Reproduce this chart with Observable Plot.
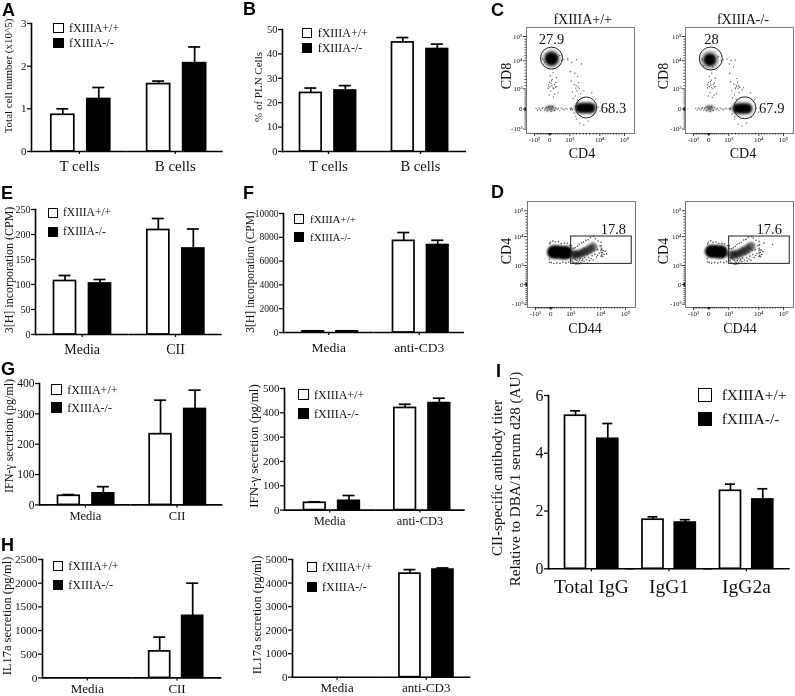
<!DOCTYPE html>
<html><head><meta charset="utf-8">
<script src="https://cdn.jsdelivr.net/npm/d3@7"></script>
<script src="https://cdn.jsdelivr.net/npm/@observablehq/plot@0.6"></script>
<style>
body{margin:0;background:#fff}
#fig{position:relative;width:795px;height:696px;overflow:hidden;font-family:"Liberation Serif",serif;color:#111;filter:blur(.35px)}
#fig svg{position:absolute;background:transparent;overflow:visible}
.t{position:absolute;white-space:nowrap;line-height:1}
.letter{font-family:"Liberation Sans",sans-serif;font-weight:700;font-size:18px;color:#000}
.sw{position:absolute;box-sizing:border-box;border:1.6px solid #000;background:#fff}
.sw.k{background:#000}
</style></head><body><div id="fig"></div>
<script>
// ---------- bar data ----------
const genotypes = ["fXIIIA+/+", "fXIIIA-/-"];
const cellCats = ["T cells", "B cells"];
const aWt = [0.86, 1.58], aWtTop = [1.0, 1.65], aKo = [1.23, 2.07], aKoTop = [1.5, 2.45];
const bWt = [24, 44.7], bWtTop = [26, 46.7], bKo = [25, 42], bKoTop = [27, 44];
const ciiCats = ["Media", "CII"];
const cd3Cats = ["Media", "anti-CD3"];
const eWt = [107, 209], eWtTop = [118, 232], eKo = [102, 172], eKoTop = [110, 211];
const fWt = [100, 7700], fWtTop = [130, 8400], fKo = [100, 7350], fKoTop = [130, 7750];
const g1Wt = [30, 233], g1WtTop = [34, 345], g1Ko = [38, 316], g1KoTop = [60, 378];
const g2Wt = [30, 420], g2WtTop = [34, 435], g2Ko = [38, 440], g2KoTop = [60, 460];
const h1Wt = [0, 560], h1WtTop = [0, 860], h1Ko = [0, 1310], h1KoTop = [0, 2000];
const h2Wt = [0, 4400], h2WtTop = [0, 4570], h2Ko = [0, 4570], h2KoTop = [0, 4640];
const iCats = ["Total IgG", "IgG1", "IgG2a"];
const iWt = [5.3, 1.7, 2.7], iWtTop = [5.47, 1.8, 2.93], iKo = [4.5, 1.6, 2.4], iKoTop = [5.03, 1.7, 2.77];

// ---------- flow cytometry data ----------
const flowMajor = [-1000, 0, 1000, 10000, 100000];
const flowMajorLabels = ["-10³", "0", "10³", "10⁴", "10⁵"];
const flowMinor = [-900,-800,-700,-600,-500,-400,-300,-200,-100,-60,-40,-20,20,40,60,100,200,300,400,500,600,700,800,900,2000,3000,4000,5000,6000,7000,8000,9000,20000,30000,40000,50000,60000,70000,80000,90000];

const cLeftUpper = [[85,17500]];
const cLeftLower = [[4000,50],[4900,50],[5800,50],[6700,50],[7300,50]];
const cLeftPatch = [[-100,40],[35,50],[150,40]];
const cLeftSpecks = [[50,900],[150,1300],[-50,700],[100,2000],[200,1100],[300,3000],[10,1600],[250,750],[120,4000],[-100,1200],[350,1800],[60,2700],[400,800],[180,600],[-80,2200],[280,1500],[90,3500],[230,2400],[20,5200],[330,4600],[-30,3100],[160,6200],
[900,13000],[1600,9500],[2500,6000],[3000,14000],[1400,3500],[2300,2400],[3500,1600],[3100,900],[2600,650],[4200,750],[2800,1200],[1800,850],[3900,1050],[2000,520],[3300,450],[4600,520],[5200,900],[2900,2000],[3700,3000],[3300,5000],[4500,9000],[1200,6500],
[-900,40],[-800,-40],[-700,60],[-650,0],[-600,-60],[-500,30],[-450,70],[-350,-50],[-300,20],[-220,90],[-180,-80],[-60,110],[60,-110],[130,120],[240,-70],[300,60],[360,-30],[430,40],[500,-60],[560,50],[650,10],[720,-40],[800,40],[880,0],[1100,30],[1250,-40],[1400,60],[1600,10],[1800,-30],
[-450,14000],[-350,9500],[-500,20000],[400,26000],[600,11000],[700,16000],[500,30000],[200,9000],[900,19000],[-250,34000],[2300,-200],[3000,-500],[4000,-700],[5200,-800],[6500,-600],[8000,-300],[9500,100],[8800,500],[7600,800],[3200,300],[2800,-350],[10500,-100]];

const cRightUpper = [[50,13750]];
const cRightLower = [[3550,35],[4300,35],[5200,35],[6100,35],[6550,35]];
const cRightPatch = [[-30,40],[50,40],[130,50]];
const cRightSpecks = [[60,800],[140,1400],[-40,650],[110,2100],[210,1000],[280,2900],[20,1700],[260,700],[130,3800],[-90,1250],[340,1700],[70,2600],[390,760],[170,580],[-70,2300],[270,1600],[80,3400],[220,2500],[30,5000],[320,4400],[-20,3000],[150,6000],
[1100,9000],[1700,11500],[2400,8000],[2900,13000],[1500,3300],[2500,2500],[3400,1700],[3000,1000],[2700,700],[4100,800],[2900,1300],[1900,900],[3800,1200],[2100,550],[3200,480],[4500,560],[5000,950],[3200,2200],[3600,3200],[3400,4300],[4000,1900],[1300,6000],
[-850,40],[-750,-40],[-680,60],[-600,0],[-520,-50],[-460,30],[-400,70],[-330,-50],[-280,20],[-200,90],[-170,-80],[-60,110],[70,-120],[140,120],[230,-70],[310,60],[370,-30],[440,40],[510,-60],[570,50],[660,10],[730,-40],[820,40],[900,0],[1150,30],[1300,-40],[1450,60],[1650,10],
[-420,12000],[-330,8500],[-450,18000],[420,22000],[620,10500],[720,14500],[480,26000],[200,8000],[900,16000],[2000,-250],[2800,-500],[3800,-750],[5000,-850],[6300,-700],[7800,-400],[9300,50],[8700,450],[7500,800],[5400,1300],[4300,1500],[2800,-380],[10000,-150]];

const dLeftCore = [[150,5200],[300,5200],[450,5100],[600,5000],[750,5000]];
const dLeftTail = [[1900,4400],[2800,4300],[4000,4700],[5200,5200],[6400,5900],[7600,6700]];
const dLeftSpecks = [[-60,7800],[-20,8200],[100,8600],[220,8300],[380,8400],[520,7800],[680,8000],[820,7900],[950,7300],[1200,7200],[-100,3000],[-80,2000],[30,1900],[150,1600],[300,1800],[460,1700],[600,2000],[760,1800],[900,2100],[1050,2600],
[1300,6400],[1500,2300],[1700,1900],[1900,6300],[2100,1700],[2300,2800],[2400,6600],[2600,1800],[2800,2600],[3000,7000],[3200,2100],[3400,1700],[3500,7600],[3600,2600],[3800,3100],[4000,1900],[4200,8000],[4400,2500],[4600,3000],[4800,8300],[5000,2300],[5200,3400],[5500,8800],[5700,2800],[5900,1700],[6200,9000],[6400,3500],[6600,2500],[6900,9600],[7100,3100],[7400,4000],[7700,2700],[7900,10000],[8200,4500],[8400,9300],[8700,3600],[9000,6000],[9200,8600],[9500,4800],[9800,7000],[10200,5700],[10600,8200],[10900,3900],[11500,6400],[12000,5000],[12800,7200],[13500,4300],[14500,6000],[15500,5000],[17000,3800],[19000,5600],[22000,4500],[26000,5400],[31000,4600],[1600,3100],[2000,3600],[2500,1500],[3000,1450],[3700,1550],[4300,5700],[5000,6300],[6000,4600],[7000,5000],[8000,5600],[9000,4200]];

const dRightCore = [[130,5400],[260,5400],[380,5300],[500,5200],[620,5200]];
const dRightTail = [[1800,4300],[2800,4300],[4000,4700],[5200,5300],[6400,6000],[7600,6900]];
const dRightSpecks = [[-70,7700],[-30,8300],[90,8700],[210,8200],[360,8300],[500,7900],[660,7800],[800,7700],[930,7200],[1150,7100],[-110,3100],[-90,2100],[20,1900],[140,1700],[290,1900],[450,1800],[590,2100],[750,1900],[890,2200],[1040,2600],
[1250,6300],[1450,2400],[1650,1800],[1850,6200],[2050,1600],[2250,2900],[2350,6500],[2550,1700],[2750,2500],[2950,6900],[3150,2000],[3350,1600],[3450,7500],[3550,2500],[3750,3000],[3950,1800],[4150,7900],[4350,2400],[4550,2900],[4750,8200],[4950,2200],[5150,3300],[5450,8900],[5650,2700],[5850,1600],[6150,9100],[6350,3400],[6550,2400],[6850,9800],[7050,3000],[7350,3900],[7650,2600],[7850,10200],[8150,4400],[8350,9500],[8650,3500],[8950,5900],[9150,8800],[9450,4700],[9750,7200],[10100,5600],[10500,8500],[10800,3800],[11300,6300],[11900,4900],[12600,7400],[13300,4200],[14300,5900],[15300,5000],[16800,3700],[18500,5700],[21000,4400],[25000,5300],[29000,8000],[60000,7500],[1600,3200],[2000,3500],[2500,1450],[3000,1400],[3600,1500],[4300,5800],[5000,6400],[6000,4500],[7000,5100],[8000,5700],[9000,4100]];

// ---------- helpers ----------
const fig = document.getElementById("fig");
function place(svg, left, top){ svg.style.left = left + "px"; svg.style.top = top + "px"; fig.appendChild(svg); }
function label(text, x, y, size, cls){
  const d = document.createElement("div"); d.className = "t " + (cls || "");
  d.textContent = text; d.style.left = x + "px"; d.style.top = y + "px";
  if (size) d.style.fontSize = size + "px";
  d.style.transform = "translate(-50%,-50%)"; fig.appendChild(d);
}
function leftLabel(text, x, cy, size){
  const d = document.createElement("div"); d.className = "t";
  d.textContent = text; d.style.left = x + "px"; d.style.top = cy + "px"; d.style.fontSize = size + "px";
  d.style.transform = "translateY(-50%)"; fig.appendChild(d);
}
function vlabel(text, cx, cy, size){
  const d = document.createElement("div"); d.className = "t";
  d.textContent = text; d.style.left = cx + "px"; d.style.top = cy + "px"; d.style.fontSize = size + "px";
  d.style.transform = "translate(-50%,-50%) rotate(-90deg)"; fig.appendChild(d);
}
function letter(text, x, baseline){
  const d = document.createElement("div"); d.className = "t letter";
  d.textContent = text; d.style.left = x + "px"; d.style.top = (baseline - 14) + "px"; fig.appendChild(d);
}
function legend(x, w, y1, y2, h, tx, size){
  [[y1, "", genotypes[0]], [y2, "k", genotypes[1]]].forEach(([y, c, t]) => {
    const s = document.createElement("div"); s.className = "sw " + c;
    s.style.cssText = `left:${x}px;top:${y}px;width:${w}px;height:${h}px`; fig.appendChild(s);
    leftLabel(t, tx, y + h / 2, size);
  });
}
function barPanel(o){
  const fl = o.fl == null ? o.l : o.fl, fr = o.fr == null ? o.r : o.fr;
  const over = fl - o.l, overR = o.r - fr;
  const mL = 30 + over, mR = 6 + overR, mT = 6, mB = 26;
  const F = (fr - fl) / o.cats.length;
  const pi = 1 - o.bw / o.step;
  const po = Math.max(0, (F / o.step - 2 + pi) / 2);
  const rest = F - (2 - pi) * o.step;
  const align = Math.min(1, Math.max(0, o.off / rest));
  const rows = o.cats.flatMap((c, i) => [
    {c, g: genotypes[0], v: o.wt[i], top: o.wtTop[i]},
    {c, g: genotypes[1], v: o.ko[i], top: o.koTop[i]}
  ]);
  const sw = o.sw || 1.7;
  const cap = (o.bw - (o.cap || 12)) / 2;
  const svg = Plot.plot({
    width: o.r - o.l + 36, height: o.b - o.t + mT + mB,
    marginLeft: mL, marginRight: mR, marginTop: mT, marginBottom: mB,
    style: {background: "transparent", fontFamily: "Liberation Serif", color: "#111", overflow: "visible"},
    fx: {domain: o.cats, padding: 0, label: null, round: false, axis: null},
    x: {domain: genotypes, paddingInner: pi, paddingOuter: po, align, round: false, axis: null},
    y: {domain: [0, o.max], axis: null},
    marks: [
      Plot.ruleX(rows, {fx: "c", x: "g", y1: "v", y2: "top", stroke: "#000", strokeWidth: sw, filter: d => d.top > d.v}),
      Plot.tickY(rows, {fx: "c", x: "g", y: "top", stroke: "#000", strokeWidth: sw, insetLeft: cap, insetRight: cap, filter: d => d.top > d.v}),
      Plot.barY(rows, {fx: "c", x: "g", y: "v", fill: d => d.g === genotypes[0] ? "#fff" : "#000", stroke: "#000", strokeWidth: sw, filter: d => d.v > 0}),
      Plot.ruleY([0], {stroke: "#000", strokeWidth: 1.6, insetLeft: -over, insetRight: -overR}),
      Plot.frame({anchor: "left", facetAnchor: "left", stroke: "#000", strokeWidth: 1.6, dx: -over}),
      Plot.axisY(o.yTicks, {tickSize: 4, tickPadding: 1, fontSize: o.yFont, label: null, strokeWidth: 1.3, tickFormat: d => String(d), dx: -over}),
      Plot.axisFx({anchor: "bottom", tickSize: 3, tickPadding: o.xPad || 4, fontSize: o.xFont, label: null, strokeWidth: 1.3})
    ]
  });
  place(svg, o.l - 30, o.t - mT);
}
function flowPanel(o){
  const mL = 26, mR = 4, mT = 4, mB = 22;
  const W = 108, H = 106;
  const xr = o.xRange || [0, 8, 23.3, 43.3, 73.3, 98, 108];
  const yr = o.yRange;
  const svg = Plot.plot({
    width: W + mL + mR, height: H + mT + mB, marginLeft: mL, marginRight: mR, marginTop: mT, marginBottom: mB,
    style: {background: "transparent", fontFamily: "Liberation Serif", color: "#111", overflow: "visible"},
    x: {type: "linear", domain: [-1600, -1000, 0, 1000, 10000, 100000, 140000], range: xr.map(v => v + mL), axis: null},
    y: {type: "linear", domain: [200000, 100000, 10000, 1000, 0, -1000, -1220], range: yr.map(v => v + mT), axis: null},
    marks: [
      Plot.frame({stroke: "#777", strokeWidth: 1}),
      Plot.axisX(flowMinor, {anchor: "bottom", tickSize: 1.5, tickFormat: () => "", label: null, strokeWidth: .8}),
      Plot.axisY(flowMinor, {anchor: "left", tickSize: 1.5, tickFormat: () => "", label: null, strokeWidth: .8}),
      Plot.axisX(flowMajor, {anchor: "bottom", tickSize: 3, tickPadding: 1, fontSize: 7, label: null, tickFormat: d => flowMajorLabels[flowMajor.indexOf(d)], strokeWidth: .8}),
      Plot.axisY(flowMajor, {anchor: "left", tickSize: 3, tickPadding: 1, fontSize: 7, label: null, tickFormat: d => flowMajorLabels[flowMajor.indexOf(d)], strokeWidth: .8}),
      ...o.blobs.map(b => Plot.dot(b.data, {x: d => d[0], y: d => d[1], r: b.r, fill: b.fill || "#000", fillOpacity: b.op == null ? 1 : b.op, imageFilter: `blur(${b.blur == null ? 1 : b.blur}px)`})),
      Plot.dot(o.specks, {x: d => d[0], y: d => d[1], r: o.speckR || .65, fill: "#222", fillOpacity: .8}),
      ...(o.gates || []).map(g => Plot.dot(g.data, {x: d => d[0], y: d => d[1], r: g.r, fill: "none", stroke: "#222", strokeWidth: 1})),
      ...(o.rect ? [Plot.rect(o.rect, {x1: d => d[0], x2: d => d[1], y1: d => d[2], y2: d => d[3], fill: "none", stroke: "#222", strokeWidth: 1})] : []),
      Plot.text(o.values, {x: d => d[0], y: d => d[1], text: d => d[2], fontSize: 14.5, fill: "#111"})
    ]
  });
  place(svg, o.left - mL, o.top - mT);
}

// ---------- bar panels ----------
barPanel({l:31,r:222.7,t:22.7,b:150.7,max:3,yTicks:[0,1,2,3],cats:cellCats,wt:aWt,wtTop:aWtTop,ko:aKo,koTop:aKoTop,off:19.8,bw:23,step:36,yFont:11,xFont:15,xPad:6});
barPanel({l:281.7,r:465.7,t:29,b:151,max:50,yTicks:[0,10,20,30,40,50],cats:cellCats,wt:bWt,wtTop:bWtTop,ko:bKo,koTop:bKoTop,off:17.5,bw:21.6,step:34.5,yFont:10.5,xFont:14.5,xPad:6});
barPanel({l:35,r:221.7,t:208.7,b:333.7,max:250,yTicks:[0,50,100,150,200,250],cats:ciiCats,wt:eWt,wtTop:eWtTop,ko:eKo,koTop:eKoTop,off:18.5,bw:22,step:35,yFont:10,xFont:14,xPad:7});
barPanel({l:283.3,r:464.3,t:213.3,b:332.3,max:10000,yTicks:[0,2000,4000,6000,8000,10000],cats:cd3Cats,wt:fWt,wtTop:fWtTop,ko:fKo,koTop:fKoTop,off:19,bw:21.5,step:34,yFont:9.5,xFont:13.5,xPad:7});
barPanel({l:39.3,r:222.7,t:383.3,b:504.7,max:400,yTicks:[0,100,200,300,400],cats:ciiCats,wt:g1Wt,wtTop:g1WtTop,ko:g1Ko,koTop:g1KoTop,off:18.5,bw:21.7,step:34.5,yFont:11.5,xFont:12.5,xPad:3});
barPanel({l:284.3,r:465,t:387.7,b:509.3,max:500,yTicks:[0,100,200,300,400,500],cats:cd3Cats,wt:g2Wt,wtTop:g2WtTop,ko:g2Ko,koTop:g2KoTop,off:19.5,bw:21.6,step:34.2,yFont:11,xFont:12.5,xPad:3});
barPanel({l:42.3,r:221.7,t:559.3,b:677.7,max:2500,yTicks:[0,500,1000,1500,2000,2500],cats:ciiCats,wt:h1Wt,wtTop:h1WtTop,ko:h1Ko,koTop:h1KoTop,off:17,bw:21,step:33,yFont:11.3,xFont:13,xPad:3});
barPanel({l:291.7,r:470,t:559,b:676.7,max:5000,yTicks:[0,1000,2000,3000,4000,5000],cats:cd3Cats,wt:h2Wt,wtTop:h2WtTop,ko:h2Ko,koTop:h2KoTop,off:17.8,bw:21,step:33,yFont:11,xFont:13,xPad:3});
barPanel({l:548.3,r:790,fl:552.5,fr:785,t:395,b:568.3,max:6,yTicks:[0,2,4,6],cats:iCats,wt:iWt,wtTop:iWtTop,ko:iKo,koTop:iKoTop,off:12.3,bw:21,step:32.3,cap:10,yFont:16,xFont:19.5,xPad:7});

// ---------- axis titles ----------
vlabel("Total cell number (x10^5)", 8, 76, 11);
vlabel("% of PLN Cells", 258, 87, 11);
vlabel("3[H] incorporation (CPM)", 9, 269.5, 12);
vlabel("3[H] incorporation (CPM)", 251, 271.5, 11.5);
vlabel("IFN-γ secretion (pg/ml)", 9.3, 436, 12);
vlabel("IFN-γ secretion (pg/ml)", 253, 446, 13);
vlabel("IL17a secretion (pg/ml)", 7, 616, 12.5);
vlabel("IL17a secretion (pg/ml)", 256.7, 615, 12.5);
vlabel("CII-specific antibody titer", 497, 478, 15);
vlabel("Relative to DBA/1 serum d28 (AU)", 515, 479, 15);

// ---------- legends ----------
legend(53, 10.5, 23, 38, 10, 69, 12);
legend(301.7, 10.5, 28, 43, 10, 317.7, 12);
legend(48, 10, 208, 227, 10, 63, 11.5);
legend(294, 10, 214, 232, 10, 310, 11);
legend(51, 10.5, 384, 402, 11, 67.3, 12);
legend(298, 10.5, 389, 408, 11, 314, 12);
legend(52.7, 10, 560.7, 580, 10, 68.3, 12);
legend(306.7, 10.5, 561.7, 582, 10, 322, 12);
legend(697.7, 14, 388, 412, 14, 721.7, 15.5);

// ---------- flow panels ----------
const cY = [0, 9, 33.3, 61.3, 81.6, 101.6, 106];
const dY = [0, 9.3, 35, 64, 83, 102.7, 106.6];
flowPanel({left:526,top:26.7,yRange:cY,
  blobs:[{data:cLeftUpper,r:9,op:.4,blur:1.5},{data:cLeftUpper,r:6.5},{data:cLeftLower,r:6,op:.4,blur:1.5},{data:cLeftLower,r:4},{data:cLeftPatch,r:3,fill:"#555",op:.55,blur:1.2}],
  specks:cLeftSpecks,gates:[{data:[[85,20000]],r:11},{data:[[5920,80]],r:10.5}],values:[[85,87700,"27.9"],[60000,50,"68.3"]]});
flowPanel({left:685,top:27.3,yRange:cY,
  blobs:[{data:cRightUpper,r:9,op:.4,blur:1.5},{data:cRightUpper,r:6},{data:cRightLower,r:6,op:.4,blur:1.5},{data:cRightLower,r:4},{data:cRightPatch,r:3,fill:"#555",op:.55,blur:1.2}],
  specks:cRightSpecks,gates:[{data:[[100,18500]],r:11.5},{data:[[5800,65]],r:11}],values:[[135,87700,"28"],[57000,50,"67.9"]]});
flowPanel({left:526.7,top:200.7,yRange:dY,speckR:.8,
  blobs:[{data:dLeftCore,r:6.8,blur:.9},{data:dLeftTail,r:4.6,op:.6,blur:1.2}],
  specks:dLeftSpecks,rect:[[1100,125000,1500,10000]],values:[[56000,36600,"17.8"]]});
flowPanel({left:685,top:200.7,yRange:dY,speckR:.8,
  blobs:[{data:dRightCore,r:6.6,blur:.9},{data:dRightTail,r:4.6,op:.6,blur:1.2}],
  specks:dRightSpecks,rect:[[1100,125000,1500,10000]],values:[[48000,36600,"17.6"]]});

label("fXIIIA+/+", 582.7, 20, 14);
label("fXIIIA-/-", 743, 20, 14);
vlabel("CD8", 506.7, 76, 14);
vlabel("CD8", 664, 76, 14);
label("CD4", 582, 153.5, 14);
label("CD4", 743, 153.5, 14);
vlabel("CD4", 506.7, 251, 14);
vlabel("CD4", 664, 251, 14);
label("CD44", 585, 329, 14);
label("CD44", 740, 329, 14);

// ---------- panel letters ----------
[["A",2,15],["B",243,14],["C",491,15],["D",491,197],["E",1,198],["F",243,198],["G",1,374],["H",1,550],["I",496,376]].forEach(([t,x,y]) => letter(t,x,y));
</script></body></html>
